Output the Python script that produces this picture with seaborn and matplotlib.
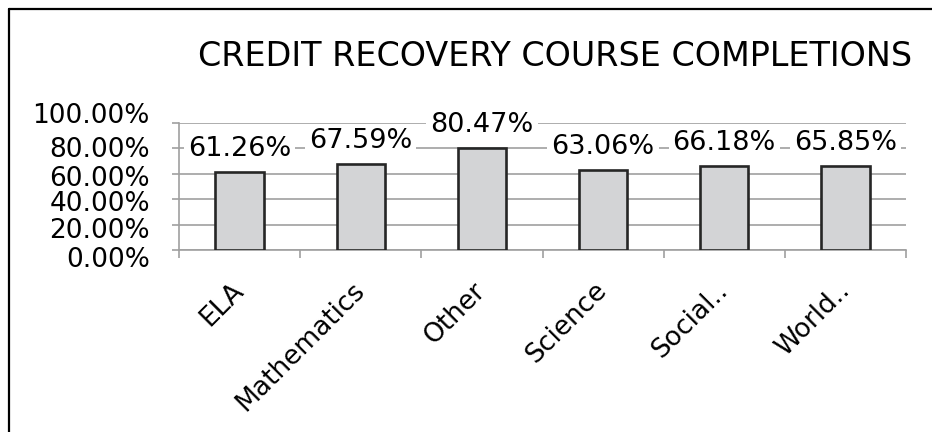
import numpy as np
import pandas as pd
import seaborn as sns
import matplotlib.pyplot as plt
import matplotlib.transforms as mtransforms
from matplotlib.lines import Line2D
from matplotlib.ticker import FuncFormatter, FixedLocator

subjects = ['ELA', 'Mathematics', 'Other', 'Science', 'Social..', 'World..']
completion = [0.6126, 0.6759, 0.8047, 0.6306, 0.6618, 0.6585]
y_ticks = [0.0, 0.2, 0.4, 0.6, 0.8, 1.0]
title = 'CREDIT RECOVERY COURSE COMPLETIONS'

df = pd.DataFrame({'subject': subjects, 'completion': completion})

sns.set_style('white')
plt.rcParams['font.family'] = ['DejaVu Sans']
plt.rcParams['text.color'] = 'black'
plt.rcParams['xtick.color'] = 'black'
plt.rcParams['ytick.color'] = 'black'

W, H = 932, 432
fig = plt.figure(figsize=(W / 100, H / 100), dpi=100)
ax = fig.add_axes([179 / W, 1 - 250 / H, 727 / W, 127 / H])

grid_c = '#a0a0a0'
sns.barplot(data=df, x='subject', y='completion', ax=ax, width=0.4,
            color='#d3d4d6', edgecolor='#262626', linewidth=1.9, saturation=1, zorder=3)

ax.set_ylim(0, 1)
ax.set_xlim(-0.5, len(subjects) - 0.5)
ax.yaxis.set_major_locator(FixedLocator(y_ticks))
ax.yaxis.set_major_formatter(FuncFormatter(lambda v, p: f'{v * 100:.2f}%'))
ax.grid(axis='y', color=grid_c, linewidth=1.2, zorder=0)
ax.set_axisbelow(True)
ax.set_xlabel('')
ax.set_ylabel('')

for s in ['top', 'right']:
    ax.spines[s].set_visible(False)
for s in ['left', 'bottom']:
    ax.spines[s].set_color(grid_c)
    ax.spines[s].set_linewidth(1.2)

ax.tick_params(axis='y', length=5, width=1.2, color=grid_c, labelcolor='black',
               labelsize=19, pad=16, left=True)
ax.set_xticks(np.arange(-0.5, len(subjects), 1.0), minor=True)
ax.tick_params(axis='x', which='minor', length=6, width=1.2, color=grid_c, bottom=True)
ax.tick_params(axis='x', which='major', length=0, labelsize=19, labelcolor='black', pad=26.5)
for lab in ax.get_xticklabels():
    lab.set_rotation(45)
    lab.set_ha('right')
    lab.set_va('center')
    lab.set_rotation_mode('anchor')

# the y labels are spread a little wider than the gridlines, as in the original
label_shift_px = [7, 3, 2, 2, -1, -10]
for lab, dy in zip(ax.get_yticklabels(), label_shift_px):
    lab.set_transform(lab.get_transform() +
                      mtransforms.ScaledTranslation(0, -dy / 100, fig.dpi_scale_trans))

for i, v in enumerate(completion):
    ax.annotate(f'{v * 100:.2f}%', (i, v), xytext=(0, 16.5), textcoords='offset points',
                ha='center', va='center', fontsize=19.5, zorder=5, annotation_clip=False,
                bbox=dict(boxstyle='square,pad=0.15', fc='white', ec='none'))

fig.text(555 / W, 1 - 57 / H, title, ha='center', va='center', fontsize=24, color='black')

fig.add_artist(Line2D([9 / W, 1], [1 - 9 / H, 1 - 9 / H], color='black', linewidth=1.6))
fig.add_artist(Line2D([9 / W, 9 / W], [0, 1 - 9 / H], color='black', linewidth=1.6))

fig.savefig('out.png', dpi=100)
